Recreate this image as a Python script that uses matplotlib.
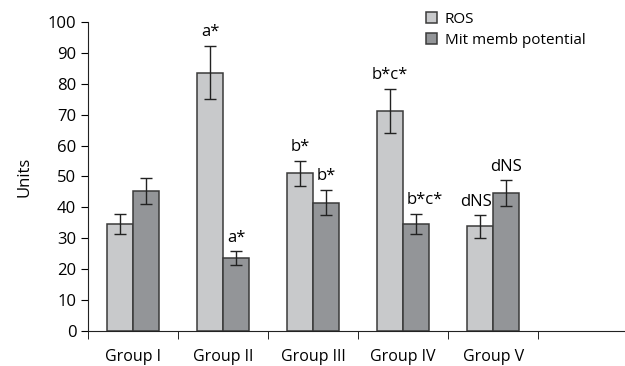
import numpy as np
import matplotlib
matplotlib.use("Agg")
import matplotlib.pyplot as plt

groups = ["Group I", "Group II", "Group III", "Group IV", "Group V"]
ros = [34.6, 83.6, 51.0, 71.3, 33.8]
ros_err = [3.1, 8.6, 4.0, 7.1, 3.6]
mit = [45.3, 23.5, 41.5, 34.6, 44.6]
mit_err = [4.3, 2.3, 4.1, 3.3, 4.2]
ros_labels = ["", "a*", "b*", "b*c*", "dNS"]
mit_labels = ["", "a*", "b*", "b*c*", "dNS"]

plt.rcParams["font.family"] = ["Open Sans", "DejaVu Sans"]

fig = plt.figure(figsize=(6.25, 3.66), dpi=100)
ax = fig.add_axes([0.141, 0.096, 0.864, 0.844])

x = np.arange(len(groups)) + 0.5
w = 0.29
light = "#c8c9cb"
dark = "#939598"
edge = "#3a3a3a"

ax.bar(x - w / 2, ros, w, color=light, edgecolor=edge, linewidth=1.1, label="ROS")
ax.bar(x + w / 2, mit, w, color=dark, edgecolor=edge, linewidth=1.1, label="Mit memb potential")
ax.errorbar(x - w / 2, ros, yerr=ros_err, fmt="none", ecolor="#222222", elinewidth=1, capsize=4, capthick=1)
ax.errorbar(x + w / 2, mit, yerr=mit_err, fmt="none", ecolor="#222222", elinewidth=1, capsize=4, capthick=1)

# significance letters above the error bars
for i in range(len(groups)):
    if ros_labels[i]:
        dx = -0.05 if i == 4 else 0
        ax.text(x[i] - w / 2 + dx, ros[i] + ros_err[i] + 1.8, ros_labels[i], ha="center", va="bottom", fontsize=12)
    if mit_labels[i]:
        dx = 0.1 if i == 3 else 0
        ax.text(x[i] + w / 2 + dx, mit[i] + mit_err[i] + 1.8, mit_labels[i], ha="center", va="bottom", fontsize=12)

ax.set_xlim(0, 6)
ax.set_ylim(0, 100)
ax.set_yticks(range(0, 101, 10))
ax.set_xticks(x)
ax.set_xticklabels(groups, fontsize=11.5)
ax.set_xticks(np.arange(0, 6), minor=True)
ax.tick_params(axis="x", which="major", length=0, pad=13)
ax.tick_params(axis="x", which="minor", length=6, direction="out")
ax.tick_params(axis="y", length=5, direction="out", labelsize=12)
ax.set_ylabel("Units", fontsize=12, labelpad=11)

for s in ["top", "right"]:
    ax.spines[s].set_visible(False)
for s in ["left", "bottom"]:
    ax.spines[s].set_color("#222222")

ax.legend(loc="upper left", bbox_to_anchor=(0.6, 1.078), frameon=False, fontsize=11,
          handlelength=0.75, handleheight=0.75, handletextpad=0.5, labelspacing=0.4)

fig.savefig("out.png", dpi=100)
